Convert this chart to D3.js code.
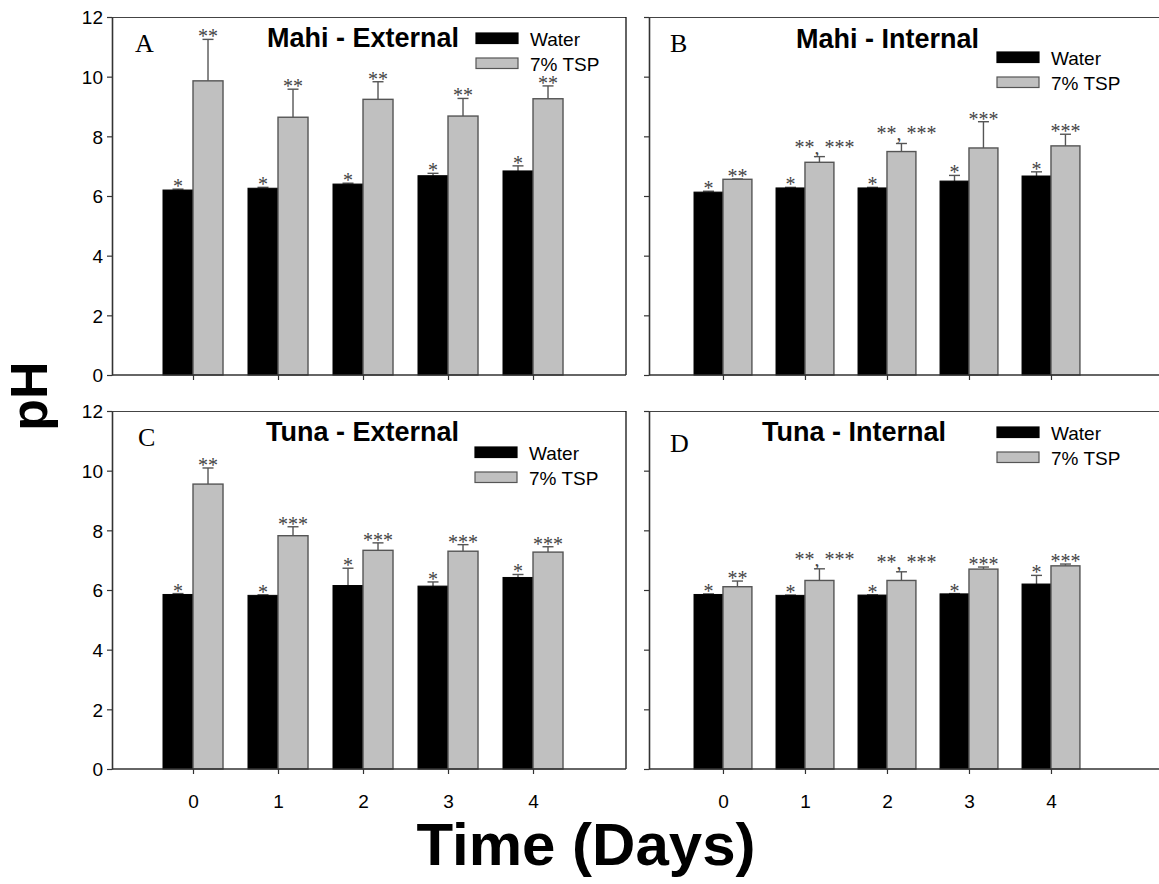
<!DOCTYPE html>
<html><head><meta charset="utf-8">
<script src="https://cdn.jsdelivr.net/npm/d3@7"></script>
<style>
html,body{margin:0;padding:0;background:#fff;}
svg{display:block;}
</style>
</head><body>
<svg id="chart" width="1159" height="884"></svg>
<script>
// ---------------- DATA ----------------
const days = [0, 1, 2, 3, 4];
const yTicks = [0, 2, 4, 6, 8, 10, 12];
const seriesNames = ["Water", "7% TSP"];
const panelLetters = ["A", "B", "C", "D"];
const panelTitles = ["Mahi - External", "Mahi - Internal", "Tuna - External", "Tuna - Internal"];

// Panel A: Mahi - External
const waterMahiExt    = [6.20, 6.26, 6.40, 6.68, 6.84];
const waterMahiExtErr = [0.03, 0.03, 0.03, 0.08, 0.17];
const tspMahiExt      = [9.86, 8.64, 9.24, 8.68, 9.26];
const tspMahiExtErr   = [1.39, 0.94, 0.59, 0.59, 0.43];
const waterMahiExtSig = ["*", "*", "*", "*", "*"];
const tspMahiExtSig   = ["**", "**", "**", "**", "**"];

// Panel B: Mahi - Internal
const waterMahiInt    = [6.13, 6.27, 6.27, 6.50, 6.67];
const waterMahiIntErr = [0.03, 0.02, 0.02, 0.19, 0.14];
const tspMahiInt      = [6.56, 7.13, 7.49, 7.61, 7.68];
const tspMahiIntErr   = [0.01, 0.19, 0.27, 0.88, 0.39];
const waterMahiIntSig = ["*", "*", "*", "*", "*"];
const tspMahiIntSig   = ["**", "**, ***", "**, ***", "***", "***"];

// Panel C: Tuna - External
const waterTunaExt    = [5.85, 5.82, 6.15, 6.13, 6.42];
const waterTunaExtErr = [0.03, 0.02, 0.58, 0.14, 0.10];
const tspTunaExt      = [9.55, 7.82, 7.33, 7.30, 7.27];
const tspTunaExtErr   = [0.54, 0.30, 0.25, 0.22, 0.18];
const waterTunaExtSig = ["*", "*", "*", "*", "*"];
const tspTunaExtSig   = ["**", "***", "***", "***", "***"];

// Panel D: Tuna - Internal
const waterTunaInt    = [5.85, 5.82, 5.83, 5.87, 6.20];
const waterTunaIntErr = [0.02, 0.01, 0.01, 0.01, 0.29];
const tspTunaInt      = [6.11, 6.32, 6.32, 6.70, 6.81];
const tspTunaIntErr   = [0.19, 0.39, 0.29, 0.07, 0.06];
const waterTunaIntSig = ["*", "*", "*", "*", "*"];
const tspTunaIntSig   = ["**", "**, ***", "**, ***", "***", "***"];

const yLabel = "pH";
const xLabel = "Time (Days)";

// ---------------- LAYOUT ----------------
const SANS = "'Liberation Sans', Arial, Helvetica, sans-serif";
const SERIF = "'Liberation Serif', 'Times New Roman', serif";
const panelW = 514, panelH = 358;
const panels = [
  {left: 112, top: 17,  dom: [-0.953, 5.094], rightBorder: true,
   water: waterMahiExt, waterErr: waterMahiExtErr, tsp: tspMahiExt, tspErr: tspMahiExtErr, wSig: waterMahiExtSig, tSig: tspMahiExtSig,
   yLabels: true,  xLabels: false, legendX: 364, legendTop: 16, titleX: 251, titleY: 30, letterX: 23, letterY: 35},
  {left: 649, top: 17,  dom: [-0.902, 5.366], rightBorder: false,
   water: waterMahiInt, waterErr: waterMahiIntErr, tsp: tspMahiInt, tspErr: tspMahiIntErr, wSig: waterMahiIntSig, tSig: tspMahiIntSig,
   yLabels: false, xLabels: false, legendX: 348, legendTop: 35, titleX: 238.5, titleY: 31, letterX: 21, letterY: 35},
  {left: 112, top: 411, dom: [-0.953, 5.094], rightBorder: true,
   water: waterTunaExt, waterErr: waterTunaExtErr, tsp: tspTunaExt, tspErr: tspTunaExtErr, wSig: waterTunaExtSig, tSig: tspTunaExtSig,
   yLabels: true,  xLabels: true,  legendX: 363, legendTop: 36, titleX: 250.5, titleY: 30, letterX: 26, letterY: 35},
  {left: 649, top: 411, dom: [-0.902, 5.366], rightBorder: false,
   water: waterTunaInt, waterErr: waterTunaIntErr, tsp: tspTunaInt, tspErr: tspTunaIntErr, wSig: waterTunaIntSig, tSig: tspTunaIntSig,
   yLabels: false, xLabels: true,  legendX: 348, legendTop: 16, titleX: 205, titleY: 30, letterX: 21, letterY: 41}
];

const svg = d3.select("#chart");
svg.append("rect").attr("width", 1159).attr("height", 884).attr("fill", "#fff");

const y = d3.scaleLinear().domain([0, 12]).range([panelH, 0]);
const capHalf = 5.5;

panels.forEach((p, i) => {
  const g = svg.append("g").attr("transform", `translate(${p.left},${p.top})`);
  const x = d3.scaleLinear().domain(p.dom).range([0, panelW]);
  const barW = x(0.353) - x(0);

  // frame: top and right borders
  g.append("line").attr("x1", 0).attr("x2", panelW).attr("y1", 0.5).attr("y2", 0.5)
    .attr("stroke", "#444").attr("stroke-width", 1);
  if (p.rightBorder) {
    g.append("line").attr("x1", panelW).attr("x2", panelW).attr("y1", 0).attr("y2", panelH)
      .attr("stroke", "#111").attr("stroke-width", 1.3);
  }

  const rows = days.map((d, k) => ({d, w: p.water[k], we: p.waterErr[k], t: p.tsp[k], te: p.tspErr[k], ws: p.wSig[k], ts: p.tSig[k]}));

  const errs = [];
  rows.forEach(r => {
    errs.push({cx: x(r.d) - barW / 2, v: r.w, e: r.we, sig: r.ws});
    errs.push({cx: x(r.d) + barW / 2, v: r.t, e: r.te, sig: r.ts});
  });
  g.selectAll("line.err").data(errs).join("line").attr("class", "err")
    .attr("x1", e => e.cx).attr("x2", e => e.cx)
    .attr("y1", e => y(e.v)).attr("y2", e => y(e.v + e.e))
    .attr("stroke", "#555").attr("stroke-width", 1.4);
  g.selectAll("line.cap").data(errs).join("line").attr("class", "cap")
    .attr("x1", e => e.cx - capHalf).attr("x2", e => e.cx + capHalf)
    .attr("y1", e => y(e.v + e.e)).attr("y2", e => y(e.v + e.e))
    .attr("stroke", "#555").attr("stroke-width", 1.4);

  g.selectAll("rect.water").data(rows).join("rect").attr("class", "water")
    .attr("x", r => x(r.d) - barW).attr("width", barW)
    .attr("y", r => y(r.w)).attr("height", r => y(0) - y(r.w))
    .attr("fill", "#000").attr("stroke", "#000").attr("stroke-width", 1);
  g.selectAll("rect.tsp").data(rows).join("rect").attr("class", "tsp")
    .attr("x", r => x(r.d)).attr("width", barW)
    .attr("y", r => y(r.t)).attr("height", r => y(0) - y(r.t))
    .attr("fill", "#c0c0c0").attr("stroke", "#555").attr("stroke-width", 1.4);

  // significance labels
  g.selectAll("text.sig").data(errs).join("text").attr("class", "sig")
    .attr("x", e => e.cx + (e.sig.includes(",") ? 5 : 0))
    .attr("y", e => y(e.v + e.e) + (e.sig.includes(",") ? -3 : 4))
    .attr("text-anchor", "middle")
    .attr("font-family", SERIF).attr("font-size", 20).attr("fill", "#444")
    .text(e => e.sig);

  // axes
  const yAxis = d3.axisLeft(y).tickValues(yTicks).tickSize(5).tickSizeOuter(0)
    .tickFormat(p.yLabels ? d3.format("d") : () => "");
  const ya = g.append("g").call(yAxis);
  const xAxis = d3.axisBottom(x).tickValues(days).tickSize(5).tickSizeOuter(0)
    .tickFormat(p.xLabels ? d3.format("d") : () => "");
  const xa = g.append("g").attr("transform", `translate(0,${panelH})`).call(xAxis);
  xa.select(".domain").attr("d", `M0,0H${panelW}`);
  [ya, xa].forEach(a => {
    a.select(".domain").attr("stroke", "#333").attr("stroke-width", 1.6);
    a.selectAll(".tick line").attr("stroke", "#333").attr("stroke-width", 1.2);
    a.selectAll(".tick text").attr("font-family", SANS).attr("font-size", 19).attr("fill", "#000");
  });
  ya.selectAll(".tick text").attr("x", -9).attr("dy", "0.36em");
  xa.selectAll(".tick text").attr("y", 0).attr("dy", 0).attr("transform", "translate(0,39)");

  // panel letter
  g.append("text").attr("x", p.letterX).attr("y", p.letterY)
    .attr("font-family", SERIF).attr("font-size", 26).attr("fill", "#000")
    .text(panelLetters[i]);
  // title
  g.append("text").attr("x", p.titleX).attr("y", p.titleY).attr("text-anchor", "middle")
    .attr("font-family", SANS).attr("font-weight", "bold").attr("font-size", 27).attr("fill", "#000")
    .text(panelTitles[i]);

  // legend
  const lg = g.append("g").attr("transform", `translate(${p.legendX},${p.legendTop})`);
  const fills = ["#000", "#c0c0c0"], strokes = ["#000", "#555"];
  seriesNames.forEach((s, k) => {
    lg.append("rect").attr("x", 0).attr("y", k * 25).attr("width", 42).attr("height", 10.5)
      .attr("fill", fills[k]).attr("stroke", strokes[k]).attr("stroke-width", 1.2);
    lg.append("text").attr("x", 54).attr("y", k * 25 + 12.5)
      .attr("font-family", SANS).attr("font-size", 19).attr("fill", "#000").text(s);
  });
});

// global axis labels
svg.append("text").attr("transform", "translate(47,396) rotate(-90)")
  .attr("text-anchor", "middle").attr("font-family", SANS).attr("font-weight", "bold")
  .attr("font-size", 52).attr("fill", "#000").text(yLabel);
svg.append("text").attr("x", 586).attr("y", 865).attr("text-anchor", "middle")
  .attr("font-family", SANS).attr("font-weight", "bold")
  .attr("font-size", 60).attr("fill", "#000").text(xLabel);
</script>
</body></html>
